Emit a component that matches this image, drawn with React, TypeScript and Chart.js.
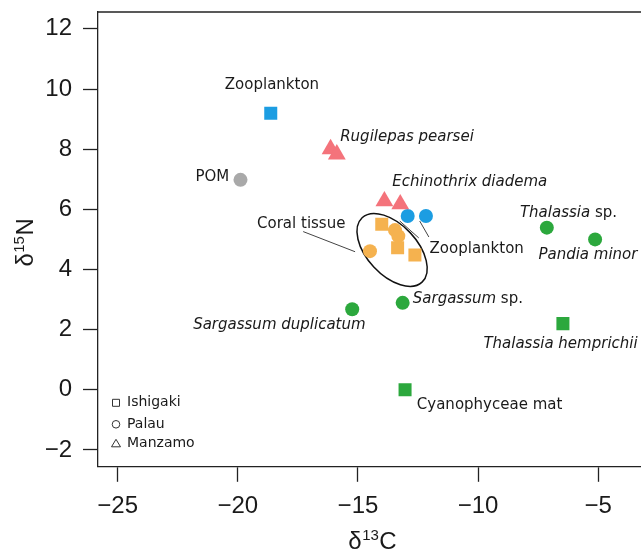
import React, { useEffect, useRef } from 'react';
import { Chart, registerables } from 'chart.js';

Chart.register(...registerables);

// ---------- axes ----------
const xTicks = [-25, -20, -15, -10, -5];
const yTicks = [-2, 0, 2, 4, 6, 8, 10, 12];
const xMin = -25.82;
const xMax = -3.22;
const yMin = -2.56;
const yMax = 12.56;
const xTitleMain = ['δ', '13', 'C'];
const yTitleMain = ['δ', '15', 'N'];

// ---------- sites (marker shapes) ----------
const siteNames = ['Ishigaki', 'Palau', 'Manzamo'];
const siteStyles = ['rect', 'circle', 'triangle'];
const siteRadius = [9.2, 7, 10.3];

// ---------- series ----------
const zooX = [-18.63, -12.93, -12.17];
const zooY = [9.19, 5.78, 5.78];
const zooSite = ['Ishigaki', 'Palau', 'Palau'];

const pomX = [-19.89];
const pomY = [6.98];
const pomSite = ['Palau'];

const invX = [-16.14, -15.88, -13.9, -13.24];
const invY = [8.0, 7.83, 6.27, 6.17];
const invSite = ['Manzamo', 'Manzamo', 'Manzamo', 'Manzamo'];

const coralX = [-14.5, -14.01, -13.46, -13.32, -13.35, -12.63];
const coralY = [4.61, 5.5, 5.31, 5.11, 4.72, 4.48];
const coralSite = ['Palau', 'Ishigaki', 'Palau', 'Palau', 'Ishigaki', 'Ishigaki'];

const prodX = [-15.24, -13.14, -7.14, -5.13, -6.47, -13.04];
const prodY = [2.68, 2.89, 5.39, 5.0, 2.2, 0.0];
const prodSite = ['Palau', 'Palau', 'Palau', 'Palau', 'Ishigaki', 'Ishigaki'];

const colors = {
  zoo: '#1c9de2',
  pom: '#a9a9a9',
  inv: '#f4737b',
  coral: '#f5b24f',
  prod: '#2ca83d',
};

// ---------- annotations ----------
// text labels: parts [text, italic], anchor in data units, alignment
const labelTexts: [string, boolean][][] = [
  [['Zooplankton', false]],
  [['Rugilepas pearsei', true]],
  [['POM', false]],
  [['Echinothrix diadema', true]],
  [['Coral tissue', false]],
  [['Zooplankton', false]],
  [['Thalassia', true], [' sp.', false]],
  [['Pandia minor', true]],
  [['Sargassum', true], [' sp.', false]],
  [['Sargassum duplicatum', true]],
  [['Thalassia hemprichii', true]],
  [['Cyanophyceae mat', false]],
];
const labelX = [-18.58, -15.74, -20.36, -13.57, -19.2, -12.02, -8.26, -7.49, -12.72, -21.86, -9.78, -12.55];
const labelY = [10.13, 8.4, 7.07, 6.9, 5.5, 4.67, 5.89, 4.48, 3.01, 2.15, 1.53, -0.5];
const labelAlign = ['center', 'left', 'right', 'left', 'left', 'left', 'left', 'left', 'left', 'left', 'left', 'left'];

// leader lines [x1, y1, x2, y2] in data units
const leaderLines = [
  [-17.28, 5.26, -15.12, 4.59],
  [-13.26, 5.61, -12.47, 5.05],
  [-12.43, 5.61, -12.05, 5.08],
];

// ellipse round coral tissue: centre (data), semi-axes in x-units, rotation (deg)
const ellipseCenter = [-13.58, 4.65];
const ellipseAxes = [1.83, 1.04];
const ellipseAngle = 47;

const legendLabels = ['Ishigaki', 'Palau', 'Manzamo'];

// ---------- helpers ----------
const styleOf = (s: string) => siteStyles[siteNames.indexOf(s)];
const radiusOf = (s: string) => siteRadius[siteNames.indexOf(s)];
const fmt = (v: number) => String(v).replace('-', '\u2212');
const TICK_FONT = '"Liberation Sans", Arial, Helvetica, sans-serif';
const LABEL_FONT = '"DejaVu Sans", Verdana, sans-serif';
const TEXT_COLOR = '#1a1a1a';

function makeDataset(label: string, xs: number[], ys: number[], sites: string[], color: string) {
  return {
    label,
    data: xs.map((x, i) => ({ x, y: ys[i] })),
    pointStyle: sites.map(styleOf),
    pointRadius: sites.map(radiusOf),
    pointBackgroundColor: color,
    pointBorderColor: color,
    pointBorderWidth: 0,
    showLine: false,
  };
}

function drawComposite(ctx: CanvasRenderingContext2D, parts: string[], size: number, supSize: number, cx: number, baseY: number) {
  const mainFont = `${size}px ${TICK_FONT}`;
  const supFont = `${supSize}px ${TICK_FONT}`;
  ctx.font = mainFont;
  const w0 = ctx.measureText(parts[0]).width;
  const w2 = ctx.measureText(parts[2]).width;
  ctx.font = supFont;
  const w1 = ctx.measureText(parts[1]).width;
  const total = w0 + w1 + w2 + 1;
  let x = cx - total / 2;
  ctx.textAlign = 'left';
  ctx.textBaseline = 'alphabetic';
  ctx.font = mainFont;
  ctx.fillText(parts[0], x, baseY);
  x += w0 + 0.5;
  ctx.font = supFont;
  ctx.fillText(parts[1], x, baseY - size * 0.38);
  x += w1 + 0.5;
  ctx.font = mainFont;
  ctx.fillText(parts[2], x, baseY);
}

const annotationPlugin = {
  id: 'annotations',
  beforeDatasetsDraw(chart: any) {
    const { ctx, scales } = chart;
    const xs = scales.x;
    const ys = scales.y;
    ctx.save();
    // leader lines
    ctx.strokeStyle = '#444';
    ctx.lineWidth = 1;
    leaderLines.forEach((l) => {
      ctx.beginPath();
      ctx.moveTo(xs.getPixelForValue(l[0]), ys.getPixelForValue(l[1]));
      ctx.lineTo(xs.getPixelForValue(l[2]), ys.getPixelForValue(l[3]));
      ctx.stroke();
    });
    // ellipse
    const pxPerX = Math.abs(xs.getPixelForValue(1) - xs.getPixelForValue(0));
    const cx = xs.getPixelForValue(ellipseCenter[0]);
    const cy = ys.getPixelForValue(ellipseCenter[1]);
    ctx.beginPath();
    ctx.ellipse(cx, cy, ellipseAxes[0] * pxPerX, ellipseAxes[1] * pxPerX, (ellipseAngle * Math.PI) / 180, 0, Math.PI * 2);
    ctx.strokeStyle = '#111';
    ctx.lineWidth = 1.5;
    ctx.stroke();
    ctx.restore();
  },
  afterDraw(chart: any) {
    const { ctx, scales, chartArea } = chart;
    const xs = scales.x;
    const ys = scales.y;
    ctx.save();
    // top frame line
    ctx.strokeStyle = '#222';
    ctx.lineWidth = 1.3;
    ctx.beginPath();
    ctx.moveTo(chartArea.left, chartArea.top);
    ctx.lineTo(chartArea.right, chartArea.top);
    ctx.stroke();

    // labels
    ctx.fillStyle = TEXT_COLOR;
    ctx.textBaseline = 'middle';
    labelTexts.forEach((parts, i) => {
      const widths = parts.map(([t, it]) => {
        ctx.font = `${it ? 'italic ' : ''}15px ${LABEL_FONT}`;
        return ctx.measureText(t).width;
      });
      const total = widths.reduce((a, b) => a + b, 0);
      let x = xs.getPixelForValue(labelX[i]);
      const y = ys.getPixelForValue(labelY[i]);
      if (labelAlign[i] === 'center') x -= total / 2;
      else if (labelAlign[i] === 'right') x -= total;
      ctx.textAlign = 'left';
      parts.forEach(([t, it], j) => {
        ctx.font = `${it ? 'italic ' : ''}15px ${LABEL_FONT}`;
        ctx.fillText(t, x, y);
        x += widths[j];
      });
    });

    // legend (shape key)
    const lx = chartArea.left + 18;
    const rows = [chartArea.bottom - 64, chartArea.bottom - 42.5, chartArea.bottom - 23];
    ctx.strokeStyle = '#333';
    ctx.lineWidth = 1;
    legendLabels.forEach((name, i) => {
      const y = rows[i];
      const st = styleOf(name);
      ctx.beginPath();
      if (st === 'rect') ctx.rect(lx - 3.5, y - 3.5, 7, 7);
      else if (st === 'circle') ctx.arc(lx, y, 3.8, 0, Math.PI * 2);
      else {
        ctx.moveTo(lx, y - 4.5);
        ctx.lineTo(lx + 4.5, y + 3);
        ctx.lineTo(lx - 4.5, y + 3);
        ctx.closePath();
      }
      ctx.stroke();
      ctx.font = `14px ${LABEL_FONT}`;
      ctx.textAlign = 'left';
      ctx.textBaseline = 'middle';
      ctx.fillText(name, lx + 11, y);
    });

    // axis titles
    ctx.fillStyle = TEXT_COLOR;
    drawComposite(ctx, xTitleMain, 24, 15, (chartArea.left + chartArea.right) / 2 + 3, chart.height - 6);
    ctx.save();
    ctx.translate(33, (chartArea.top + chartArea.bottom) / 2 + 3);
    ctx.rotate(-Math.PI / 2);
    drawComposite(ctx, yTitleMain, 24, 15, 0, 0);
    ctx.restore();
    ctx.restore();
  },
};

export default function App() {
  const ref = useRef<HTMLCanvasElement>(null);
  useEffect(() => {
    const canvas = ref.current;
    if (!canvas) return;
    const chart = new Chart(canvas, {
      type: 'scatter',
      data: {
        datasets: [
          makeDataset('Invertebrates', invX, invY, invSite, colors.inv),
          makeDataset('Zooplankton', zooX, zooY, zooSite, colors.zoo),
          makeDataset('Coral tissue', coralX, coralY, coralSite, colors.coral),
          makeDataset('POM', pomX, pomY, pomSite, colors.pom),
          makeDataset('Primary producers', prodX, prodY, prodSite, colors.prod),
        ] as any,
      },
      options: {
        animation: false,
        responsive: false,
        events: [],
        layout: { autoPadding: false, padding: { top: 12, left: 0, right: 0, bottom: 0 } },
        plugins: { legend: { display: false }, tooltip: { enabled: false } },
        scales: {
          x: {
            type: 'linear',
            position: 'bottom',
            min: xMin,
            max: xMax,
            afterBuildTicks: (s: any) => {
              s.ticks = xTicks.map((v) => ({ value: v }));
            },
            afterFit: (s: any) => {
              s.height = 88.2;
              s.paddingLeft = 0;
              s.paddingRight = 0;
            },
            grid: { display: true, drawOnChartArea: false, drawTicks: true, tickLength: 15, tickColor: '#222', tickWidth: 1.3 },
            border: { display: true, color: '#222', width: 1.3 },
            ticks: {
              font: { family: TICK_FONT, size: 24 },
              color: TEXT_COLOR,
              padding: 10,
              maxRotation: 0,
              autoSkip: false,
              callback: (v: any) => fmt(Number(v)),
            },
            title: { display: false },
          },
          y: {
            type: 'linear',
            position: 'left',
            min: yMin,
            max: yMax,
            afterBuildTicks: (s: any) => {
              s.ticks = yTicks.map((v) => ({ value: v }));
            },
            afterFit: (s: any) => {
              s.width = 98;
              s.paddingTop = 0;
              s.paddingBottom = 0;
            },
            grid: { display: true, drawOnChartArea: false, drawTicks: true, tickLength: 15, tickColor: '#222', tickWidth: 1.3 },
            border: { display: true, color: '#222', width: 1.3 },
            ticks: {
              font: { family: TICK_FONT, size: 24 },
              color: TEXT_COLOR,
              padding: 11,
              autoSkip: false,
              callback: (v: any) => fmt(Number(v)),
            },
            title: { display: false },
          },
        },
      } as any,
      plugins: [annotationPlugin],
    });
    return () => chart.destroy();
  }, []);
  return (
    <div style={{ position: 'fixed', left: 0, top: 0, width: 641, height: 555, background: '#fff' }}>
      <canvas ref={ref} width={641} height={555} style={{ display: 'block' }} />
    </div>
  );
}
